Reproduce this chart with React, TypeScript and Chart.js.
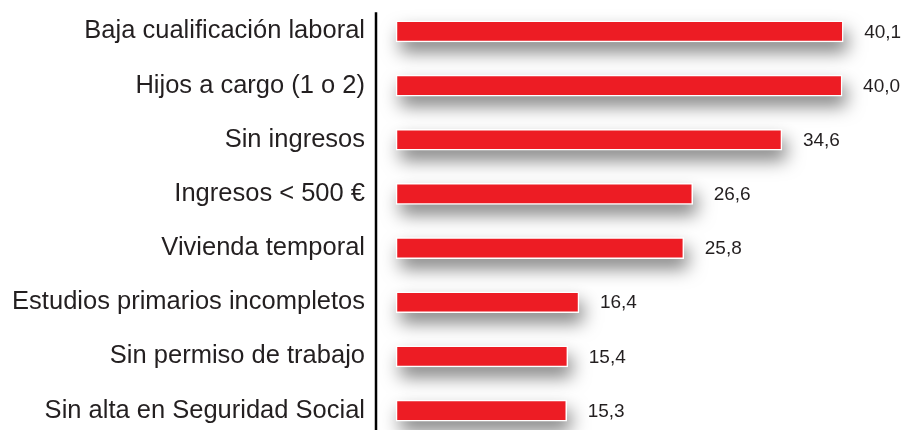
import React, { useEffect, useRef } from "react";
import { Chart, registerables } from "chart.js";

Chart.register(...registerables);

const categories = [
  "Baja cualificación laboral",
  "Hijos a cargo (1 o 2)",
  "Sin ingresos",
  "Ingresos < 500 €",
  "Vivienda temporal",
  "Estudios primarios incompletos",
  "Sin permiso de trabajo",
  "Sin alta en Seguridad Social",
];
const values = [40.1, 40.0, 34.6, 26.6, 25.8, 16.4, 15.4, 15.3];
const valueLabels = ["40,1", "40,0", "34,6", "26,6", "25,8", "16,4", "15,4", "15,3"];

const FONT = "Arial, Helvetica, sans-serif";

// draws a soft drop shadow under each bar (shadow only, the shape itself is off-canvas)
const shadowPlugin = {
  id: "barShadow",
  beforeDatasetsDraw(chart: any) {
    const ctx = chart.ctx;
    const meta = chart.getDatasetMeta(0);
    const far = 5000;
    ctx.save();
    ctx.shadowColor = "rgba(0,0,0,0.5)";
    ctx.shadowBlur = 18;
    ctx.shadowOffsetX = 4 + far;
    ctx.shadowOffsetY = 10;
    ctx.fillStyle = "#000";
    meta.data.forEach((bar: any) => {
      const p = bar.getProps(["x", "y", "base", "height"], true);
      const left = Math.min(p.base, p.x);
      const w = Math.abs(p.x - p.base);
      ctx.fillRect(left - far, p.y - p.height / 2, w, p.height);
    });
    ctx.restore();
  },
};

const axisLinePlugin = {
  id: "axisLine",
  afterDraw(chart: any) {
    const ctx = chart.ctx;
    const a = chart.chartArea;
    ctx.save();
    ctx.strokeStyle = "#000";
    ctx.lineWidth = 2.5;
    ctx.beginPath();
    ctx.moveTo(a.left, a.top + 8);
    ctx.lineTo(a.left, a.bottom);
    ctx.stroke();
    ctx.restore();
  },
};

const valueLabelPlugin = {
  id: "valueLabels",
  afterDatasetsDraw(chart: any) {
    const ctx = chart.ctx;
    const meta = chart.getDatasetMeta(0);
    ctx.save();
    ctx.font = `19px ${FONT}`;
    ctx.fillStyle = "#231F20";
    ctx.textAlign = "left";
    ctx.textBaseline = "middle";
    meta.data.forEach((bar: any, i: number) => {
      ctx.fillText(valueLabels[i], bar.x + 21, bar.y + 1);
    });
    ctx.restore();
  },
};

export default function App() {
  const ref = useRef<HTMLCanvasElement>(null);
  useEffect(() => {
    document.body.style.margin = "0";
    const chart = new Chart(ref.current!, {
      type: "bar",
      data: {
        labels: categories,
        datasets: [
          {
            data: values,
            backgroundColor: "#ED1C24",
            borderColor: "#ffffff",
            borderWidth: 1.5,
            borderSkipped: false,
            barThickness: 21,
          },
        ],
      },
      plugins: [shadowPlugin, valueLabelPlugin, axisLinePlugin],
      options: {
        indexAxis: "y",
        animation: false,
        responsive: false,
        maintainAspectRatio: false,
        layout: { padding: 0 },
        plugins: { legend: { display: false }, tooltip: { enabled: false } },
        scales: {
          x: {
            min: -1.8,
            max: 46,
            display: false,
          },
          y: {
            grid: { display: false, drawTicks: false },
            border: { display: false },
            ticks: {
              color: "#231F20",
              padding: 11,
              font: { size: 25.5, family: FONT },
            },
            afterFit(scale: any) {
              scale.width = 376;
            },
          },
        },
      },
    });
    const wantHeight = 433;
    const h = chart.chartArea.bottom - chart.chartArea.top;
    if (Math.abs(h - wantHeight) > 0.5) {
      chart.resize(909, Math.round(481 + (wantHeight - h)));
    }
    (ref.current as HTMLCanvasElement).style.marginTop = `${4 - chart.chartArea.top}px`;
    return () => chart.destroy();
  }, []);
  return (
    <div style={{ width: 909, height: 430, overflow: "hidden", background: "#fff" }}>
      <canvas ref={ref} width={909} height={481} style={{ display: "block" }} />
    </div>
  );
}
